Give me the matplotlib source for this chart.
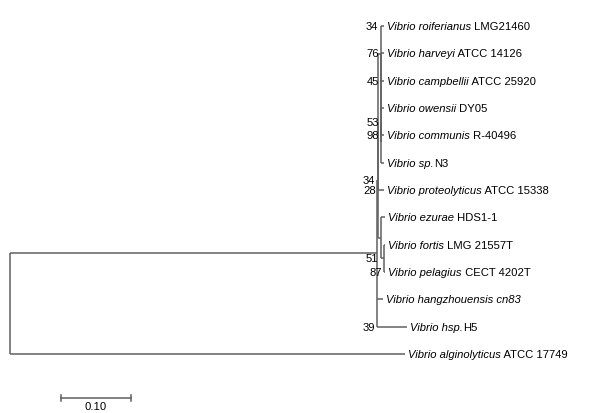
import matplotlib
matplotlib.use("Agg")
import matplotlib.pyplot as plt

plt.rcParams["font.family"] = ["Liberation Sans", "DejaVu Sans"]

# Tips, top to bottom
tip_ids = ["roif", "harv", "campb", "owen", "comm", "spN3", "prot",
           "ezur", "fort", "pela", "hang", "hsp", "algi"]
tip_species = ["Vibrio roiferianus", "Vibrio harveyi", "Vibrio campbellii",
               "Vibrio owensii", "Vibrio communis", "Vibrio sp.",
               "Vibrio proteolyticus", "Vibrio ezurae", "Vibrio fortis",
               "Vibrio pelagius", "Vibrio hangzhouensis cn83", "Vibrio hsp.",
               "Vibrio alginolyticus"]
tip_strains = [" LMG21460", " ATCC 14126", " ATCC 25920", " DY05",
               " R-40496", "N3", " ATCC 15338", " HDS1-1", " LMG 21557T",
               " CECT 4202T", "", "H5", " ATCC 17749"]

# (parent, child, branch length)
edges = [
    ("root", "I", 0.5243),
    ("root", "algi", 0.5643),
    ("I", "V", 0.0007),
    ("I", "hang", 0.0086),
    ("I", "hsp", 0.0428),
    ("V", "U", 0.0007),
    ("V", "E", 0.0043),
    ("U", "Ntop", 0.0036),
    ("U", "prot", 0.0086),
    ("Ntop", "roif", 0.0050),
    ("Ntop", "Nh", 0.0004),
    ("Nh", "harv", 0.0046),
    ("Nh", "Nc", 0.0003),
    ("Nc", "campb", 0.0043),
    ("Nc", "No", 0.0003),
    ("No", "Noc", 0.0004),
    ("No", "spN3", 0.0040),
    ("Noc", "owen", 0.0036),
    ("Noc", "comm", 0.0036),
    ("E", "ezur", 0.0057),
    ("E", "F", 0.0050),
    ("F", "fort", 0.0014),
    ("F", "pela", 0.0014),
]

# Bootstrap support: (node, value, where the label sits)
supports = [
    ("Ntop", "34", "top"),
    ("Nh", "76", "top"),
    ("Nc", "45", "top"),
    ("No", "53", "top"),
    ("Noc", "98", "bottom"),
    ("U", "28", "bottom"),
    ("V", "34", "node"),
    ("E", "51", "bottom"),
    ("F", "87", "bottom"),
    ("I", "39", "bottom"),
]

scale_length = 0.10

# ---- layout ----
children = {}
blen = {}
for p, c, l in edges:
    children.setdefault(p, []).append(c)
    blen[c] = l

xpos = {"root": 0.0}
def set_x(n):
    for c in children.get(n, []):
        xpos[c] = xpos[n] + blen[c]
        set_x(c)
set_x("root")

ypos = {t: i for i, t in enumerate(tip_ids)}
def set_y(n):
    if n in ypos:
        return ypos[n]
    ys = [set_y(c) for c in children[n]]
    ypos[n] = (min(ys) + max(ys)) / 2
    return ypos[n]
set_y("root")

# ---- drawing ----
fig = plt.figure(figsize=(6.01, 4.14), dpi=100)
ax = fig.add_axes([0, 0, 1, 1])
ax.set_xlim(-10 / 700, 591 / 700)
ax.set_ylim((414 - 27) / 27.33, -27 / 27.33)
ax.axis("off")

lc = "#606060"
lw = 1.1
for n, kids in children.items():
    ky = [ypos[c] for c in kids]
    ax.plot([xpos[n], xpos[n]], [min(ky), max(ky)], color=lc, lw=lw,
            solid_capstyle="butt")
    for c in kids:
        ax.plot([xpos[n], xpos[c]], [ypos[c], ypos[c]], color=lc, lw=lw,
                solid_capstyle="butt")

fs = 8.1
for t, sp, st in zip(tip_ids, tip_species, tip_strains):
    a = ax.annotate(sp, xy=(xpos[t], ypos[t]), xytext=(2.2, 0),
                    textcoords="offset points", ha="left", va="center",
                    fontsize=fs, style="italic", color="black")
    if st:
        ax.annotate(st, xy=(1, 0), xycoords=a, ha="left", va="bottom",
                    fontsize=fs, color="black")

for n, val, where in supports:
    kids = children[n]
    ky = [ypos[c] for c in kids]
    if where == "top":
        ly = min(ky)
    elif where == "bottom":
        ly = max(ky)
    else:
        ly = ypos[n]
    ax.annotate(val, xy=(xpos[n], ly), xytext=(-1.5, 0),
                textcoords="offset points", ha="right", va="center",
                fontsize=fs, color="black")

# scale bar
sx0 = 51 / 700
sy = (399 - 27) / 27.33
ax.plot([sx0, sx0 + scale_length], [sy, sy], color=lc, lw=lw)
for xx in (sx0, sx0 + scale_length):
    ax.plot([xx, xx], [sy - 0.12, sy + 0.12], color=lc, lw=lw)
ax.annotate(f"{scale_length:.2f}", xy=(sx0 + scale_length / 2, sy),
            xytext=(0, -2.5), textcoords="offset points", ha="center",
            va="top", fontsize=fs, color="black")

fig.savefig("out.png", dpi=100)
